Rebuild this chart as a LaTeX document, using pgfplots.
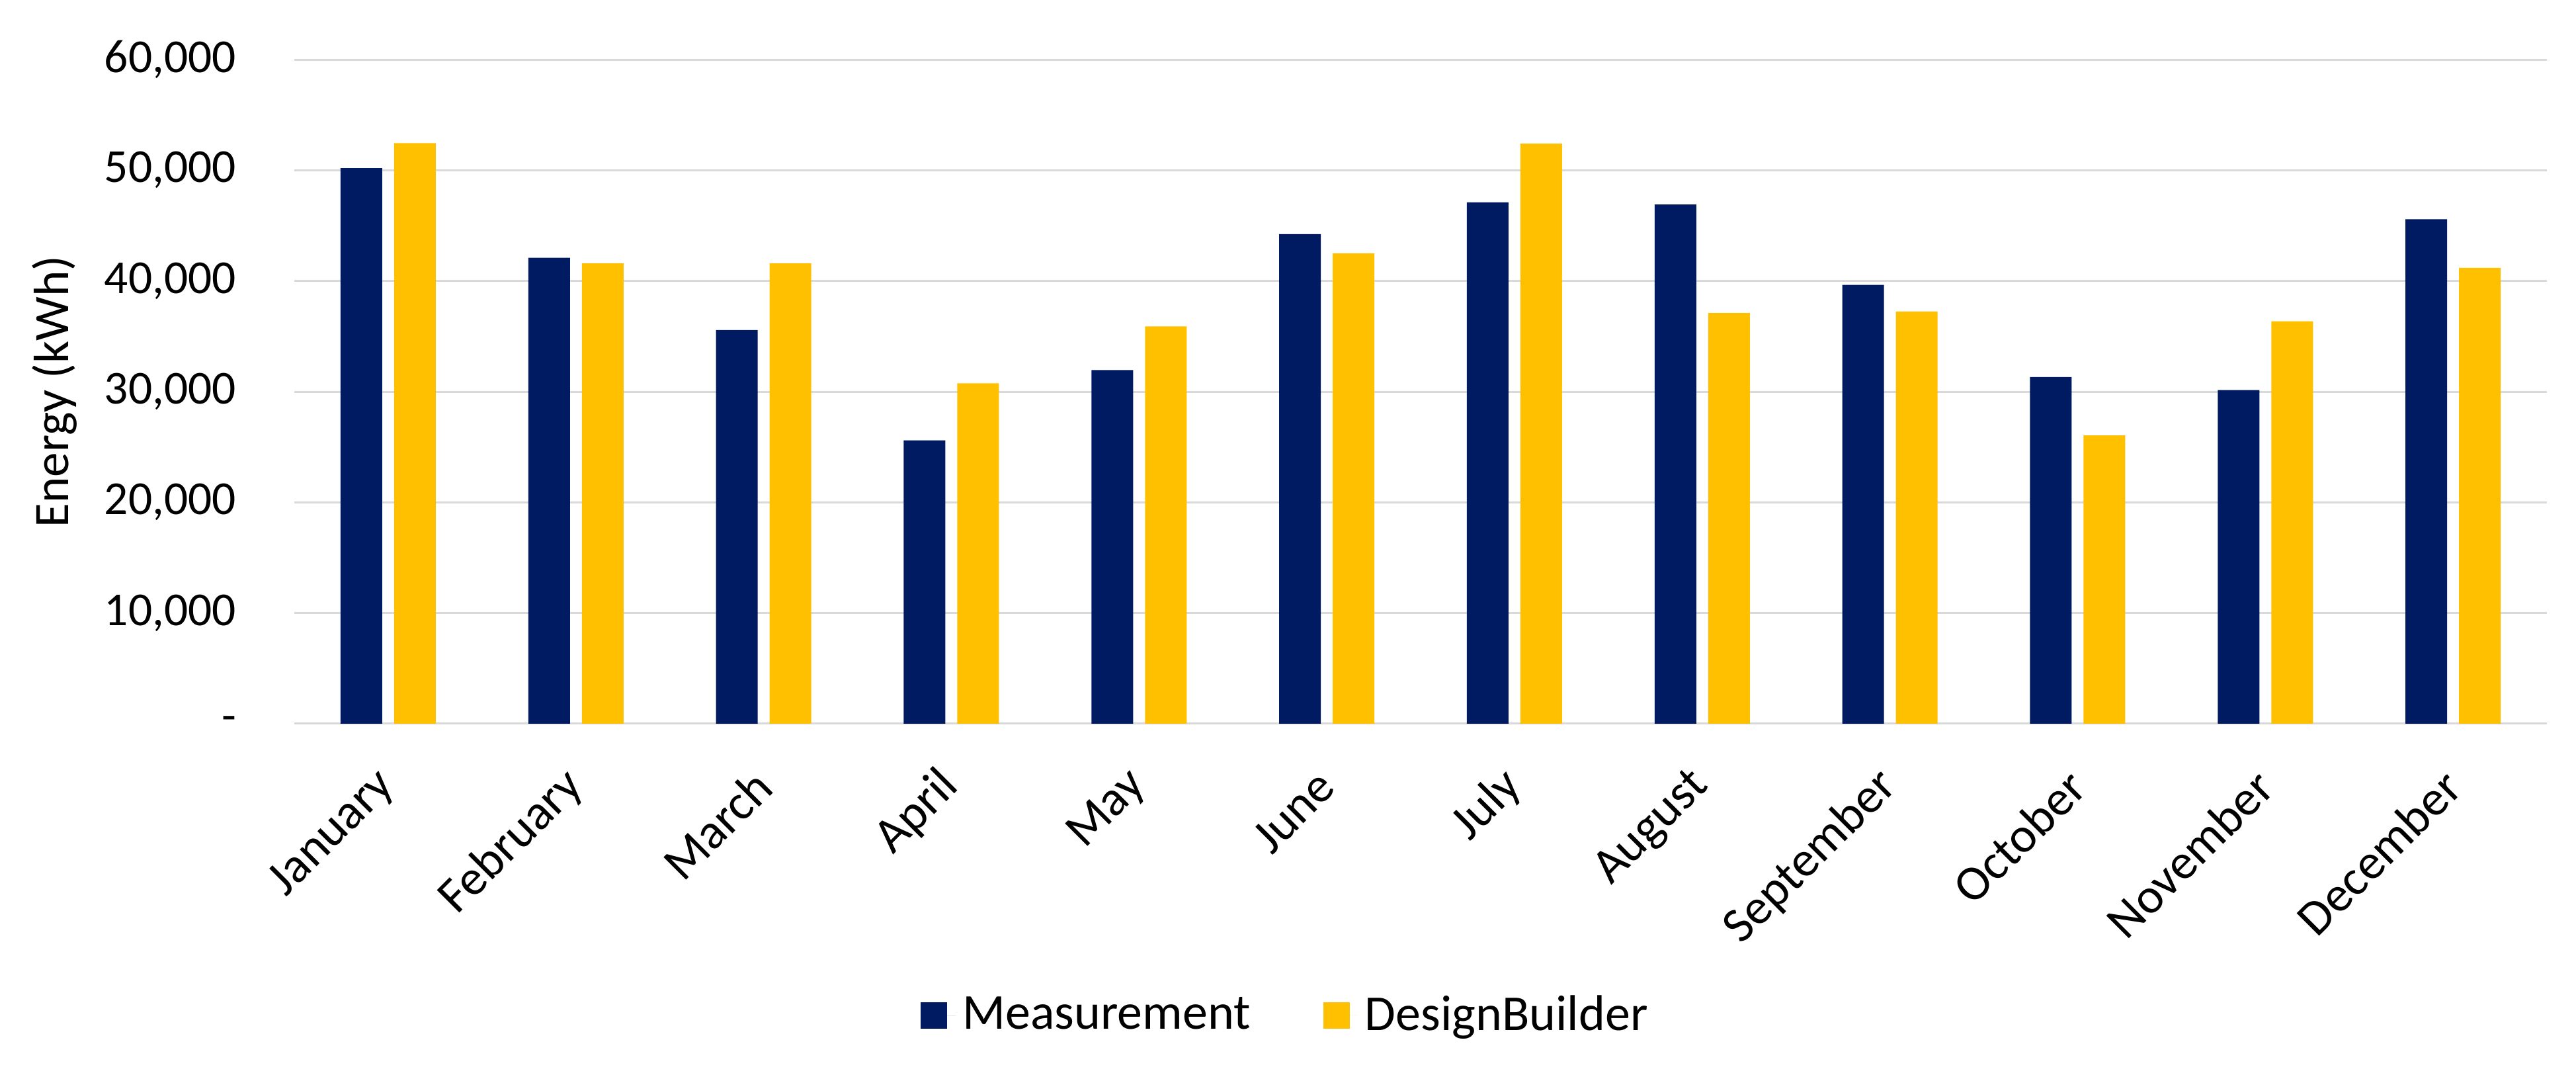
\documentclass[border=0pt]{standalone}
\usepackage{fontspec}
\setmainfont{Carlito}
\usepackage{pgfplots}
\pgfplotsset{compat=1.18}

\definecolor{measblue}{HTML}{001B62}
\definecolor{dbgold}{HTML}{FFC000}
\definecolor{gridgray}{HTML}{D9D9D9}

\begin{document}
\begin{tikzpicture}
\useasboundingbox (0,0) rectangle (779pt,326.2pt);
\begin{axis}[
    at={(89pt,107.4pt)}, anchor=south west,
    scale only axis,
    width=681.2pt, height=200.8pt,
    ybar=3.6pt,
    bar width=12.6pt,
    xmin=-0.5, xmax=11.5,
    ymin=0, ymax=60000,
    scaled y ticks=false,
    xtick=data,
    xticklabels={January,February,March,April,May,June,July,August,September,October,November,December},
    ytick={0,10000,20000,30000,40000,50000,60000},
    yticklabels={{-\hspace{0.45em}},{10,000},{20,000},{30,000},{40,000},{50,000},{60,000}},
    axis line style={draw=none},
    major tick length=0pt,
    ymajorgrids=true,
    grid style={gridgray, line width=0.6pt},
    ticklabel style={font=\fontsize{14.3}{17}\selectfont},
    yticklabel style={anchor=east, inner sep=0pt, xshift=-17.4pt},
    xticklabel style={xshift=0pt, yshift=-16.5pt, rotate=45, anchor=east, inner sep=0pt, font=\fontsize{15}{18}\selectfont},
    ylabel={Energy (kWh)},
    every axis y label/.style={at={(axis description cs:-0.1063,0.5)}, anchor=center, rotate=90, font=\fontsize{15}{18}\selectfont},
    legend columns=2,
    legend style={at={(axis description cs:0.441,-0.439)}, anchor=center, draw=none, fill=none,
        font=\fontsize{15.2}{18}\selectfont,
        /tikz/every even column/.append style={column sep=20pt}},
    legend image code/.code={\fill[#1] (0pt,-4pt) rectangle (8pt,4pt); \path (0pt,0pt) -- (10.6pt,0pt);},
]
\addplot[fill=measblue, draw=none] coordinates {
    (0,50200) (1,42100) (2,35560) (3,25600) (4,31950) (5,44230)
    (6,47100) (7,46900) (8,39650) (9,31320) (10,30140) (11,45570)
};
\addplot[fill=dbgold, draw=none] coordinates {
    (0,52450) (1,41600) (2,41600) (3,30750) (4,35900) (5,42500)
    (6,52400) (7,37100) (8,37240) (9,26050) (10,36360) (11,41180)
};
\legend{Measurement, DesignBuilder}
\end{axis}
\end{tikzpicture}
\end{document}
